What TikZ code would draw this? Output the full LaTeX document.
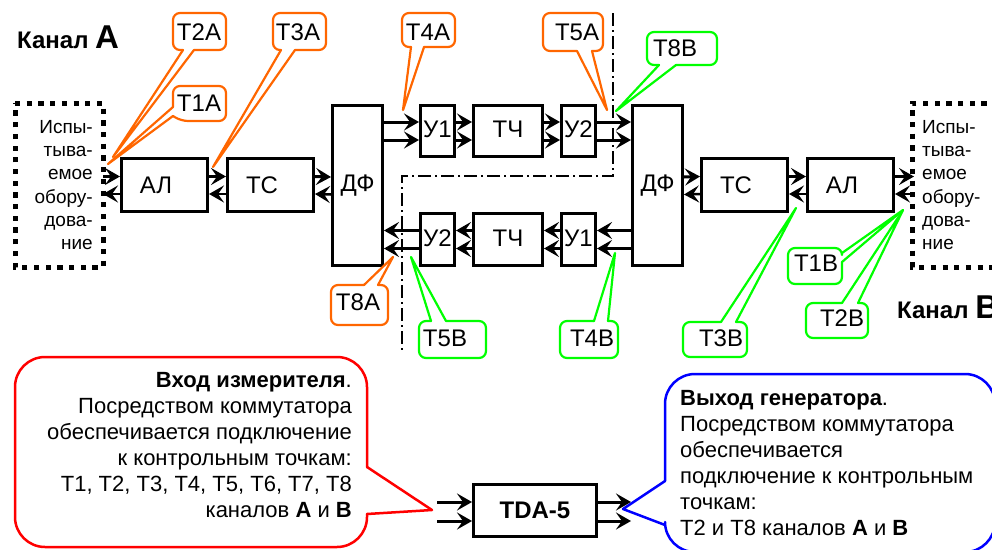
\documentclass[tikz,border=0pt]{standalone}
\usepackage{fontspec}
\setmainfont{Liberation Sans}
\usetikzlibrary{arrows.meta}
\definecolor{orng}{RGB}{255,102,0}
\definecolor{grn}{RGB}{0,255,0}
\tikzset{
  x=1pt,y=-1pt,
  boxn/.style={draw=black,line width=3pt,rectangle,inner sep=0pt,font=\fontsize{24}{24}\selectfont},
  thick arr/.style={line width=3pt,-{Stealth[length=15pt,width=17pt,inset=6pt]}},
  thin arr/.style={line width=2.5pt,-{Stealth[length=15pt,width=17pt,inset=6pt]}},
  dots/.style={draw=black,line width=5pt,dash pattern=on 5.2pt off 6.5pt},
  call/.style={line width=2.2pt,line join=round,line cap=round},
  lab/.style={inner sep=0pt,font=\fontsize{24}{24}\selectfont},
  eut/.style={inner sep=0pt,font=\fontsize{19}{23.3}\selectfont},
  note/.style={inner sep=0pt,font=\fontsize{22}{26}\selectfont},
  ttl/.style={inner sep=0pt,anchor=base west,font=\fontsize{24}{24}\selectfont\bfseries},
  sep/.style={draw=black,line width=1.4pt,dash pattern=on 13pt off 4pt on 2pt off 4pt},
}
% \bx{name}{left}{top}{right}{bottom}{text} : outer edges, in px
\newcommand{\bx}[6]{%
  \pgfmathsetmacro{\bxw}{#4-#2-3}\pgfmathsetmacro{\bxh}{#5-#3-3}%
  \pgfmathsetmacro{\bxx}{(#2+#4)/2}\pgfmathsetmacro{\bxy}{(#3+#5)/2}%
  \node[boxn,minimum width=\bxw pt,minimum height=\bxh pt] (#1) at (\bxx,\bxy) {#6};}
\newcommand{\CapB}[1]{{\fontsize{33}{33}\selectfont #1}}
% \callo{colour}{radius}{rim path}{pointer path}
\newcommand{\callo}[4]{\draw[#1,call,rounded corners=#2] #3; \draw[#1,call] #4;}
\newcommand{\sft}{\rule{17pt}{0pt}}
\begin{document}
\begin{tikzpicture}
\useasboundingbox (0,0) rectangle (992,549);
% separators
\draw[sep] (613,13) -- (613,176) -- (402,176) -- (402,353);
% equipment frames
\draw[dots] (15,103) -- (103,103) -- (103,267) -- (15,267) -- cycle;
\draw[dots] (1010,103) -- (912,103) -- (912,267) -- (1010,267);
\node[eut,align=right,anchor=east] (eutA) at (93,185) {Испы-\\тыва-\\емое\\обору-\\дова-\\ние};
\node[eut,align=left,anchor=west] (eutB) at (922,185) {Испы-\\тыва-\\емое\\обору-\\дова-\\ние};
% blocks
\bx{ALa}{120}{157}{209}{213}{АЛ\sft}
\bx{TSa}{226}{157}{315}{213}{ТС\sft}
\bx{DFa}{331}{104}{384}{267}{ДФ}
\bx{UAa}{419}{104}{456}{158}{\raisebox{3pt}{У1}}
\bx{TCa}{472}{104}{544}{158}{\raisebox{3pt}{ТЧ}}
\bx{UBa}{560}{104}{597}{158}{\raisebox{3pt}{У2}}
\bx{UBb}{419}{212}{456}{267}{\raisebox{3pt}{У2}}
\bx{TCb}{472}{212}{544}{267}{\raisebox{3pt}{ТЧ}}
\bx{UAb}{560}{212}{597}{267}{\raisebox{3pt}{У1}}
\bx{DFb}{631}{104}{684}{267}{ДФ}
\bx{TSb}{700}{157}{789}{213}{ТС\sft}
\bx{ALb}{806}{157}{895}{213}{АЛ\sft}
\bx{TDA}{472}{483}{598}{538}{\bfseries TDA-5}
% left chain
\coordinate (eA) at (103,185);
\coordinate (eB) at (914,185);
\foreach \s/\t in {eA/ALa,ALa/TSa,TSa/DFa}{
  \draw[thick arr] ([yshift=8.5pt]\s.east) -- ([yshift=8.5pt]\t.west);
  \draw[thin arr] ([yshift=-9pt]\t.west) -- ([yshift=-9pt]\s.east);
}
\foreach \s/\t in {DFb/TSb,TSb/ALb,ALb/eB}{
  \draw[thick arr] ([yshift=8.5pt]\s.east) -- ([yshift=8.5pt]\t.west);
  \draw[thin arr] ([yshift=-9pt]\t.west) -- ([yshift=-9pt]\s.east);
}
% top row
\foreach \s/\t in {DFa/UAa,UAa/TCa,TCa/UBa,UBa/DFb}{
  \draw[thick arr] ([yshift=9pt]UAa.east -| \s.east) -- ([yshift=9pt]UAa.east -| \t.west);
  \draw[thick arr] ([yshift=-9pt]UAa.east -| \s.east) -- ([yshift=-9pt]UAa.east -| \t.west);
}
% bottom row
\foreach \s/\t in {DFb/UAb,UAb/TCb,TCb/UBb,UBb/DFa}{
  \draw[thick arr] ([yshift=9pt]UAb.east -| \s.west) -- ([yshift=9pt]UAb.east -| \t.east);
  \draw[thick arr] ([yshift=-9pt]UAb.east -| \s.west) -- ([yshift=-9pt]UAb.east -| \t.east);
}
% TDA-5
\coordinate (inA) at (437,502);
\coordinate (inB) at (437,521);
\coordinate (outA) at (631,502);
\coordinate (outB) at (631,521);
\draw[thick arr] (inA) -- (inA -| TDA.west);
\draw[thick arr] (inB) -- (inB -| TDA.west);
\draw[thick arr] (outA -| TDA.east) -- (outA);
\draw[thick arr] (outB -| TDA.east) -- (outB);
% orange callouts
\callo{orng}{7pt}{(194,50) -- (226,50) -- (226,13) -- (173,13) -- (173,50) -- (183,50)}{(183,50) -- (113,157) -- (194,50)}
\callo{orng}{7pt}{(173,107) -- (173,86) -- (226,86) -- (226,121) -- (181,121) -- (173,116)}{(173,116) -- (108,164) -- (173,107)}
\callo{orng}{7pt}{(295,50) -- (326,50) -- (326,13) -- (273,13) -- (273,50) -- (281,50)}{(281,50) -- (213,167) -- (295,50)}
\callo{orng}{7pt}{(424,47) -- (455,47) -- (455,13) -- (402,13) -- (402,47) -- (411,47)}{(411,47) -- (403,110) -- (424,47)}
\callo{orng}{7pt}{(592,51) -- (603,51) -- (603,13) -- (543,13) -- (543,51) -- (577,51)}{(577,51) -- (607,110) -- (592,51)}
\callo{orng}{7pt}{(378,285) -- (388,285) -- (388,325) -- (331,325) -- (331,285) -- (364,285)}{(364,285) -- (393,257) -- (378,285)}
% green callouts
\callo{grn}{7pt}{(676,65) -- (717,65) -- (717,32) -- (647,32) -- (647,65) -- (659,65)}{(659,65) -- (616,111) -- (676,65)}
\callo{grn}{7pt}{(446,321) -- (486,321) -- (486,358) -- (419,358) -- (419,321) -- (431,321)}{(431,321) -- (411,257) -- (446,321)}
\callo{grn}{7pt}{(608,321) -- (618,321) -- (618,358) -- (560,358) -- (560,321) -- (594,321)}{(594,321) -- (615,253) -- (608,321)}
\callo{grn}{7pt}{(736,322) -- (747,322) -- (747,357) -- (683,357) -- (683,322) -- (721,322)}{(721,322) -- (796,208) -- (736,322)}
\callo{grn}{7pt}{(842,262) -- (842,284) -- (788,284) -- (788,248) -- (842,248) -- (842,253)}{(842,253) -- (903,210) -- (842,262)}
\callo{grn}{7pt}{(858,303) -- (868,303) -- (868,338) -- (806,338) -- (806,303) -- (842,303)}{(842,303) -- (903,210) -- (858,303)}
% big callouts
\draw[red,call,line width=2.5pt,rounded corners=30pt] (367,514) -- (367,547) -- (15,547) -- (15,357) -- (367,357) -- (367,467);
\draw[red,call,line width=2.5pt] (367,467) -- (432,510) -- (367,514);
\draw[blue,call,line width=2.5pt,rounded corners=30pt] (665,481) -- (665,374) -- (995,374) -- (995,552) -- (665,552) -- (665,525);
\draw[blue,call,line width=2.5pt] (665,525) -- (623,509) -- (665,481);
% callout labels
\node[lab] (T2A) at (199,32) {Т2А};
\node[lab] (T1A) at (199,103) {Т1А};
\node[lab] (T3A) at (298,32) {Т3А};
\node[lab] (T4A) at (428,32) {Т4А};
\node[lab] (T5A) at (577,32) {Т5А};
\node[lab] (T8B) at (675,48) {Т8В};
\node[lab] (T8A) at (358,302) {Т8А};
\node[lab] (T5B) at (445,338) {Т5В};
\node[lab] (T4B) at (592,338) {Т4В};
\node[lab] (T3B) at (721,338) {Т3В};
\node[lab] (T1B) at (816,263) {Т1В};
\node[lab] (T2B) at (842,318) {Т2В};
% titles
\node[ttl] (chA) at (17,48) {Канал \CapB{А}};
\node[ttl] (chB) at (897,318) {Канал \CapB{В}};
% notes
\node[note,align=right,anchor=north east] (inN) at (352,372) {\textbf{Вход измерителя}.\\Посредством коммутатора\\обеспечивается подключение\\к контрольным точкам:\\Т1, Т2, Т3, Т4, Т5, Т6, Т7, Т8\\каналов \textbf{А} и \textbf{В}};
\node[note,align=left,anchor=north west] (outN) at (680,390) {\textbf{Выход генератора}.\\Посредством коммутатора\\обеспечивается\\подключение к контрольным\\точкам:\\Т2 и Т8 каналов \textbf{А} и \textbf{В}};
\end{tikzpicture}
\end{document}
